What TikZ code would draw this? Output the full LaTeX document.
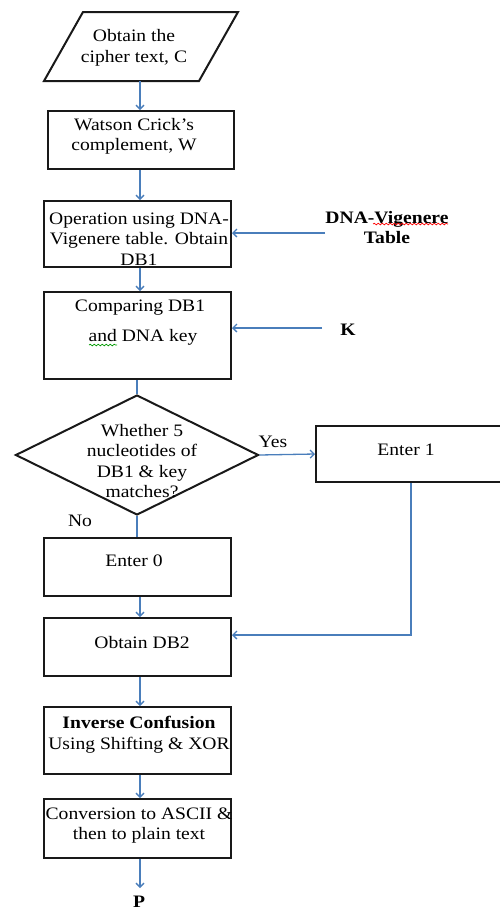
\documentclass[tikz,border=0pt]{standalone}
\usepackage{fontspec}
\setmainfont[FakeStretch=1.12]{Liberation Serif}
\usetikzlibrary{arrows.meta,shapes.geometric,decorations.pathmorphing}
\definecolor{conn}{HTML}{4A7EBB}
\tikzset{
  box/.style={draw=black!90, line width=2pt, rectangle, inner sep=0pt, minimum width=187pt},
  txt/.style={align=center, inner sep=0pt, font=\fontsize{17.5}{20.5}\selectfont},
  arr/.style={draw=conn, line width=1.3pt, -{Straight Barb[length=4pt,width=8pt]}},
  ln/.style={draw=conn, line width=1.3pt},
  squig/.style={line width=0.7pt, decorate, decoration={snake, amplitude=0.8pt, segment length=4pt}}
}
\begin{document}
\begin{tikzpicture}[x=1pt,y=-1pt]
\useasboundingbox (0,0) rectangle (499,911);
\coordinate (axis) at (140,0);
% input parallelogram
\draw[line width=2pt, draw=black!90] (83,12) coordinate (pTL) -- (238,12) coordinate (pTR) -- (199,81) coordinate (pBR) -- (44,81) coordinate (pBL) -- cycle;
\coordinate (pB) at (140,81);
\node[txt] (tC) at (134,48) {Obtain the\\cipher text, C};
% boxes
\node[box, minimum width=186pt, minimum height=58pt] (W) at (141,140) {};
\node[txt] (tW) at (134,136.5) {Watson Crick’s\\complement, W};
\node[box, minimum height=66pt] (DB1) at (137.5,234) {};
\node[txt] (tDB1) at (139,239) {Operation using DNA-\\Vigenere table. Obtain\\DB1};
\node[box, minimum height=87pt] (Cmp) at (137.5,335.5) {};
\node[txt] (tCmp1) at (140,308) {Comparing DB1};
\node[txt] (tCmp2) at (143,337) {and DNA key};
\node[draw=black!90, line width=2pt, diamond, inner sep=0pt, minimum width=243pt, minimum height=120pt] (D) at (137,455) {};
\node[txt] (tD) at (142,461) {Whether 5\\nucleotides of\\DB1 \& key\\matches?};
\node[box, minimum height=56pt] (E1) at (409.5,454) {};
\node[txt] (tE1) at (406,450) {Enter 1};
\node[box, minimum height=58pt] (E0) at (137.5,567) {};
\node[txt] (tE0) at (134,561) {Enter 0};
\node[box, minimum height=58pt] (DB2) at (137.5,647) {};
\node[txt] (tDB2) at (142,643) {Obtain DB2};
\node[box, minimum height=67pt] (Inv) at (137.5,740.5) {};
\node[txt] (tInv) at (139,734.5) {\textbf{Inverse Confusion}\\Using Shifting \& XOR};
\node[box, minimum height=59pt] (Conv) at (137.5,828.5) {};
\node[txt] (tConv) at (139,825.5) {Conversion to ASCII \&\\then to plain text};
\node[txt, font=\fontsize{17.5}{20.5}\selectfont\bfseries, anchor=base] (P) at (139,907.5) {P};
\coordinate (pe) at (140,888);
\node[txt, font=\fontsize{17.5}{20.5}\selectfont\bfseries] (T) at (387,227.5) {DNA-Vigenere\\Table};
\node[txt, font=\fontsize{17.5}{20.5}\selectfont\bfseries] (K) at (348,330) {K};
\node[txt] (Yes) at (273,442) {Yes};
\node[txt] (No) at (80,521) {No};
% spell-check marks
\draw[squig, red] (373,224) -- (448,224);
\draw[squig, green!60!black] (89,345) -- (117,345);
% connectors
\draw[arr] (pB) -- (pB |- W.north);
\draw[arr] (W.south -| axis) -- (DB1.north -| axis);
\draw[arr] (DB1.south -| axis) -- (Cmp.north -| axis);
\draw[ln] (Cmp.south -| D.north) -- (D.north);
\draw[arr] (D.east) -- (E1.west);
\draw[ln] (D.south) -- (E0.north -| D.south);
\draw[arr] (E0.south -| axis) -- (DB2.north -| axis);
\coordinate (j) at (411,635);
\draw[arr] (E1.south -| j) -- (j) -- (DB2.east |- j);
\draw[arr] (DB2.south -| axis) -- (Inv.north -| axis);
\draw[arr] (Inv.south -| axis) -- (Conv.north -| axis);
\draw[arr] (Conv.south -| axis) -- (pe);
\coordinate (ts) at (325,233);
\draw[arr] (ts) -- (DB1.east |- ts);
\coordinate (ks) at (322,328);
\draw[arr] (ks) -- (Cmp.east |- ks);
\end{tikzpicture}
\end{document}
